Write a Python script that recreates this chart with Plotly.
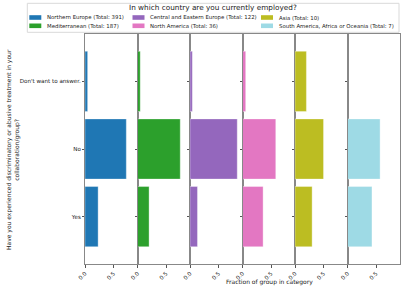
import plotly.graph_objects as go
from plotly.subplots import make_subplots

categories = ["Yes", "No", "Don't want to answer."]
groups = ["Northern Europe", "Mediterranean", "Central and Eastern Europe",
          "North America", "Asia", "South America, Africa or Oceania"]
totals = [391, 187, 122, 36, 10, 7]
# fractions in order: Yes, No, Don't want to answer.
frac_northern = [0.230, 0.724, 0.046]
frac_mediterranean = [0.203, 0.749, 0.048]
frac_central_eastern = [0.131, 0.828, 0.041]
frac_north_america = [0.361, 0.583, 0.056]
frac_asia = [0.300, 0.500, 0.200]
frac_south_other = [0.429, 0.571, 0.0]
colors = ["#1f77b4", "#2ca02c", "#9467bd", "#e377c2", "#bcbd22", "#9edae5"]
legend_title = "In which country are you currently employed?"
y_title = "Have you experienced discriminatory or abusive treatment in your<br>collaboration/group?"
x_title = "Fraction of group in category"

fracs = [frac_northern, frac_mediterranean, frac_central_eastern,
         frac_north_america, frac_asia, frac_south_other]

W, H = 407, 291
ML, MR, MT, MB = 85, 7, 34, 27
PW, PH = W - ML - MR, H - MT - MB


def px_x(px):
    return (px - ML) / PW


def px_y(py):
    return (H - MB - py) / PH


FONT = "DejaVu Sans"
TXT = "#222"
fig = make_subplots(rows=1, cols=6, shared_yaxes=True, horizontal_spacing=0)

for i, (g, t, f, c) in enumerate(zip(groups, totals, fracs, colors)):
    fig.add_trace(go.Bar(
        x=f, y=categories, orientation="h",
        name=f"{g} (Total: {t})",
        marker=dict(color=c, line=dict(width=0.6, color="rgba(255,255,255,0.6)")),
        showlegend=False,
    ), row=1, col=i + 1)

for i in range(6):
    fig.update_xaxes(range=[0, 0.92], tickvals=[0, 0.5], ticktext=["0.0", "0.5"],
                     tickangle=-45, ticks="outside", ticklen=3, tickcolor="#555",
                     showline=True, linecolor="#888", linewidth=1, mirror=True,
                     showgrid=False, zeroline=False, automargin=False,
                     tickfont=dict(family=FONT, size=5.6, color=TXT),
                     row=1, col=i + 1)
    fig.update_yaxes(categoryorder="array", categoryarray=categories,
                     range=[-0.7, 2.7], ticks="outside", ticklen=2, tickcolor="#555",
                     showline=True, linecolor="#888", linewidth=1, mirror=True,
                     showgrid=False, zeroline=False, automargin=False,
                     tickfont=dict(family=FONT, size=5.6, color=TXT),
                     row=1, col=i + 1)

# manual legend (column-major, 3 columns x 2 rows)
shapes = [dict(type="rect", xref="paper", yref="paper",
               x0=px_x(27.3), x1=px_x(399), y0=px_y(32.3), y1=px_y(3.3),
               line=dict(color="#d9d9d9", width=1), fillcolor="white", layer="above")]
annotations = [dict(text=legend_title, xref="paper", yref="paper",
                    x=px_x(213), y=px_y(8), xanchor="center", yanchor="middle",
                    showarrow=False, font=dict(family=FONT, size=7.3, color=TXT))]
col_swatch_x = [29.3, 132.5, 261]
row_y = [17.5, 25.8]
for i, (g, t, c) in enumerate(zip(groups, totals, colors)):
    col, row = i // 2, i % 2
    sx = col_swatch_x[col]
    sy = row_y[row]
    shapes.append(dict(type="rect", xref="paper", yref="paper",
                       x0=px_x(sx), x1=px_x(sx + 12), y0=px_y(sy + 2.3), y1=px_y(sy - 2.3),
                       line=dict(width=0), fillcolor=c, layer="above"))
    annotations.append(dict(text=f"{g} (Total: {t})", xref="paper", yref="paper",
                            x=px_x(sx + 15.5), y=px_y(sy), xanchor="left", yanchor="middle",
                            showarrow=False, font=dict(family=FONT, size=5.4, color=TXT)))

annotations.append(dict(text=y_title, xref="paper", yref="paper",
                        x=px_x(13), y=px_y(150), xanchor="center", yanchor="middle",
                        textangle=-90, showarrow=False,
                        font=dict(family=FONT, size=6, color=TXT)))
annotations.append(dict(text=x_title, xref="paper", yref="paper",
                        x=px_x(269), y=px_y(282), xanchor="center", yanchor="middle",
                        showarrow=False, font=dict(family=FONT, size=6, color=TXT)))

fig.update_layout(
    width=W, height=H, autosize=False,
    margin=dict(l=ML, r=MR, t=MT, b=MB),
    plot_bgcolor="white", paper_bgcolor="white",
    bargap=0.11,
    font=dict(family=FONT, size=6, color=TXT),
    showlegend=False,
    hovermode=False,
    shapes=shapes,
    annotations=annotations,
)

fig.write_html("out.html", config={"displayModeBar": False, "staticPlot": False},
               post_script="document.body.style.margin='0px';document.body.style.padding='0px';")
